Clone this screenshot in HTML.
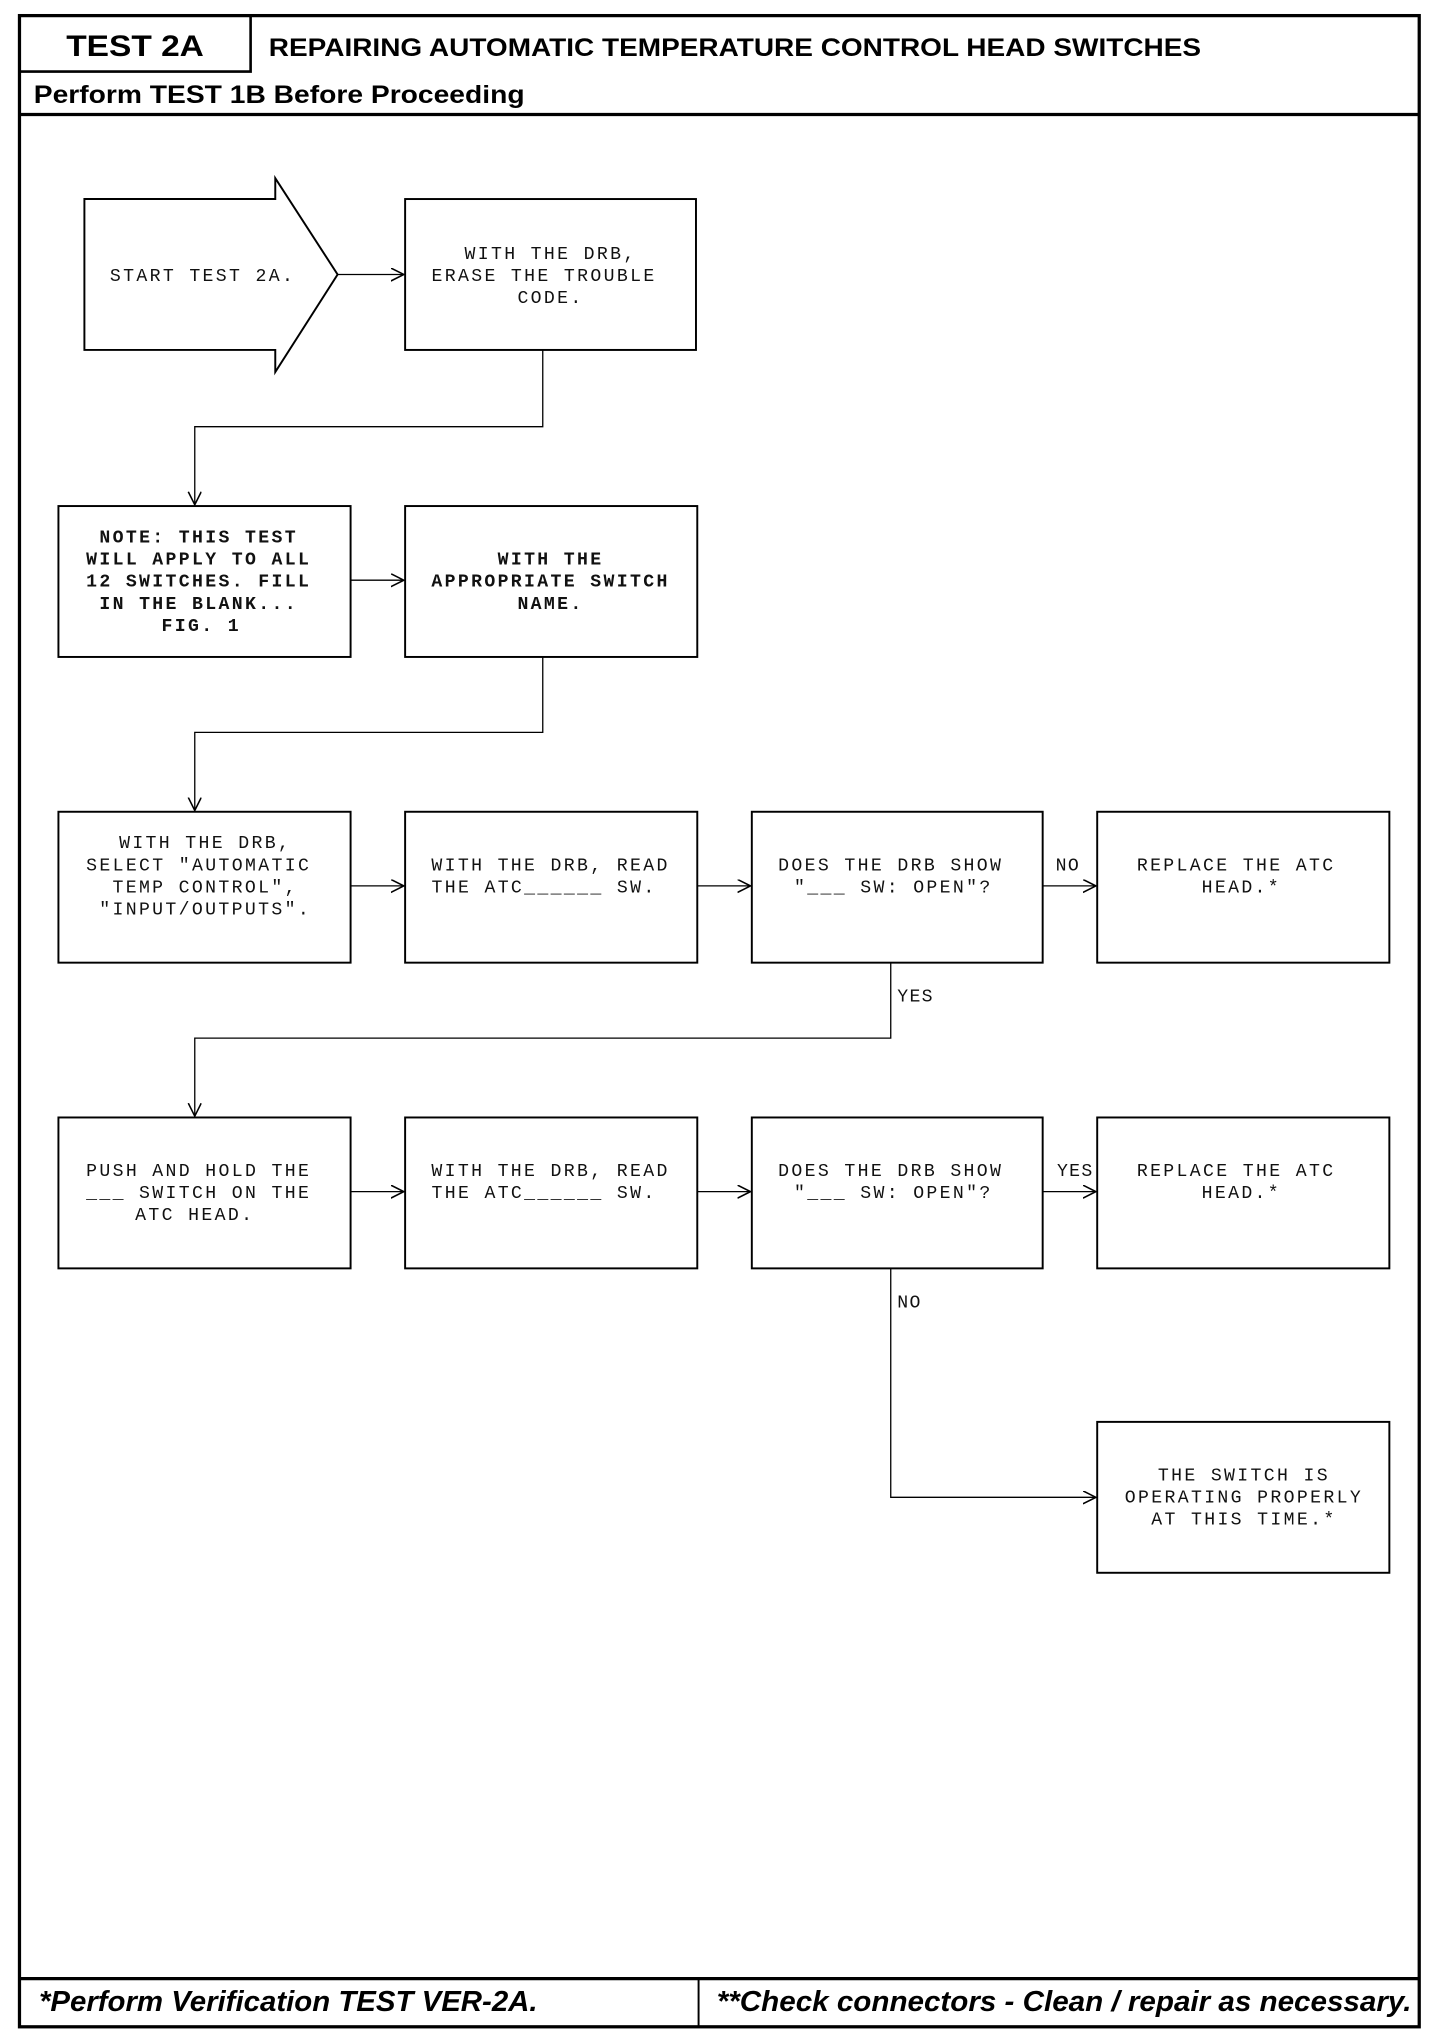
<!DOCTYPE html>
<html><head><meta charset="utf-8"><style>
html,body{margin:0;padding:0;background:#fff;}
svg{display:block;}
.m{font-family:"Liberation Mono",monospace;font-size:14px;letter-spacing:1.8px;fill:#111;}
.b{font-weight:bold;}
.h{font-family:"Liberation Sans",sans-serif;font-weight:bold;fill:#000;}
</style></head><body>
<svg width="1440" height="2032" viewBox="0 0 1109 1562" preserveAspectRatio="none" xmlns="http://www.w3.org/2000/svg">
<defs><marker id="a" markerWidth="12" markerHeight="12" refX="10" refY="5" orient="auto" markerUnits="userSpaceOnUse"><path d="M0,0 L10,5 L0,10" fill="none" stroke="#000" stroke-width="1.2"/></marker></defs>
<g fill="none" stroke="#000">
<rect x="15" y="12" width="1078" height="1546" stroke-width="2.5"/>
<path d="M193,12 V55 H15" stroke-width="2"/>
<line x1="15" y1="88" x2="1093" y2="88" stroke-width="2.5"/>
<line x1="15" y1="1521" x2="1093" y2="1521" stroke-width="2.5"/>
<line x1="538" y1="1521" x2="538" y2="1558" stroke-width="1.5"/>
<g stroke-width="1.5">
<path d="M65,153 H212 V137 L260,211 L212,286 V269 H65 Z"/>
<rect x="312" y="153" width="224" height="116"/>
<rect x="45" y="389" width="225" height="116"/>
<rect x="312" y="389" width="225" height="116"/>
<rect x="45" y="624" width="225" height="116"/>
<rect x="312" y="624" width="225" height="116"/>
<rect x="579" y="624" width="224" height="116"/>
<rect x="845" y="624" width="225" height="116"/>
<rect x="45" y="859" width="225" height="116"/>
<rect x="312" y="859" width="225" height="116"/>
<rect x="579" y="859" width="224" height="116"/>
<rect x="845" y="859" width="225" height="116"/>
<rect x="845" y="1093" width="225" height="116"/>
</g>
<g stroke-width="1" marker-end="url(#a)">
<line x1="260" y1="211" x2="311" y2="211"/>
<path d="M418,269 V328 H150 V388"/>
<line x1="270" y1="446" x2="311" y2="446"/>
<path d="M418,505 V563 H150 V623"/>
<line x1="270" y1="681" x2="311" y2="681"/>
<line x1="537" y1="681" x2="578" y2="681"/>
<line x1="803" y1="681" x2="844" y2="681"/>
<path d="M686,740 V798 H150 V858"/>
<line x1="270" y1="916" x2="311" y2="916"/>
<line x1="537" y1="916" x2="578" y2="916"/>
<line x1="803" y1="916" x2="844" y2="916"/>
<path d="M686,975 V1151 H844"/>
</g>
</g>
<text class="h" x="51" y="43" font-size="23" textLength="106" lengthAdjust="spacingAndGlyphs">TEST 2A</text>
<text class="h" x="207" y="43" font-size="19" textLength="718" lengthAdjust="spacingAndGlyphs">REPAIRING AUTOMATIC TEMPERATURE CONTROL HEAD SWITCHES</text>
<text class="h" x="26" y="79" font-size="19" textLength="378" lengthAdjust="spacingAndGlyphs">Perform TEST 1B Before Proceeding</text>
<text class="h" x="30" y="1546" font-size="22" font-style="italic" textLength="384" lengthAdjust="spacingAndGlyphs">*Perform Verification TEST VER-2A.</text>
<text class="h" x="552" y="1546" font-size="22" font-style="italic" textLength="535" lengthAdjust="spacingAndGlyphs">**Check connectors - Clean / repair as necessary.</text>
<g class="m" text-anchor="middle">
<text x="156" y="216">START TEST 2A.</text>
<text x="424" y="199">WITH THE DRB,</text>
<text x="419" y="216">ERASE THE TROUBLE</text>
<text x="424" y="233">CODE.</text>
<g class="b">
<text x="153" y="417">NOTE: THIS TEST</text>
<text x="153" y="434">WILL APPLY TO ALL</text>
<text x="153" y="451">12 SWITCHES. FILL</text>
<text x="153" y="468">IN THE BLANK...</text>
<text x="155" y="485">FIG. 1</text>
<text x="424" y="434">WITH THE</text>
<text x="424" y="451">APPROPRIATE SWITCH</text>
<text x="424" y="468">NAME.</text>
</g>
<text x="158" y="652">WITH THE DRB,</text>
<text x="153" y="669">SELECT "AUTOMATIC</text>
<text x="158" y="686">TEMP CONTROL",</text>
<text x="158" y="703">"INPUT/OUTPUTS".</text>
<text x="424" y="669">WITH THE DRB, READ</text>
<text x="419" y="686">THE ATC______ SW.</text>
<text x="686" y="669">DOES THE DRB SHOW</text>
<text x="688" y="686">"___ SW: OPEN"?</text>
<text x="952" y="669">REPLACE THE ATC</text>
<text x="956" y="686">HEAD.*</text>
<text x="153" y="904">PUSH AND HOLD THE</text>
<text x="153" y="921">___ SWITCH ON THE</text>
<text x="150" y="938">ATC HEAD.</text>
<text x="424" y="904">WITH THE DRB, READ</text>
<text x="419" y="921">THE ATC______ SW.</text>
<text x="686" y="904">DOES THE DRB SHOW</text>
<text x="688" y="921">"___ SW: OPEN"?</text>
<text x="952" y="904">REPLACE THE ATC</text>
<text x="956" y="921">HEAD.*</text>
<text x="958" y="1138">THE SWITCH IS</text>
<text x="958" y="1155">OPERATING PROPERLY</text>
<text x="958" y="1172">AT THIS TIME.*</text>
</g>
<g class="m" style="letter-spacing:1px">
<text x="813" y="669">NO</text>
<text x="691" y="770">YES</text>
<text x="814" y="904">YES</text>
<text x="691" y="1005">NO</text>
</g>
</svg>
</body></html>
